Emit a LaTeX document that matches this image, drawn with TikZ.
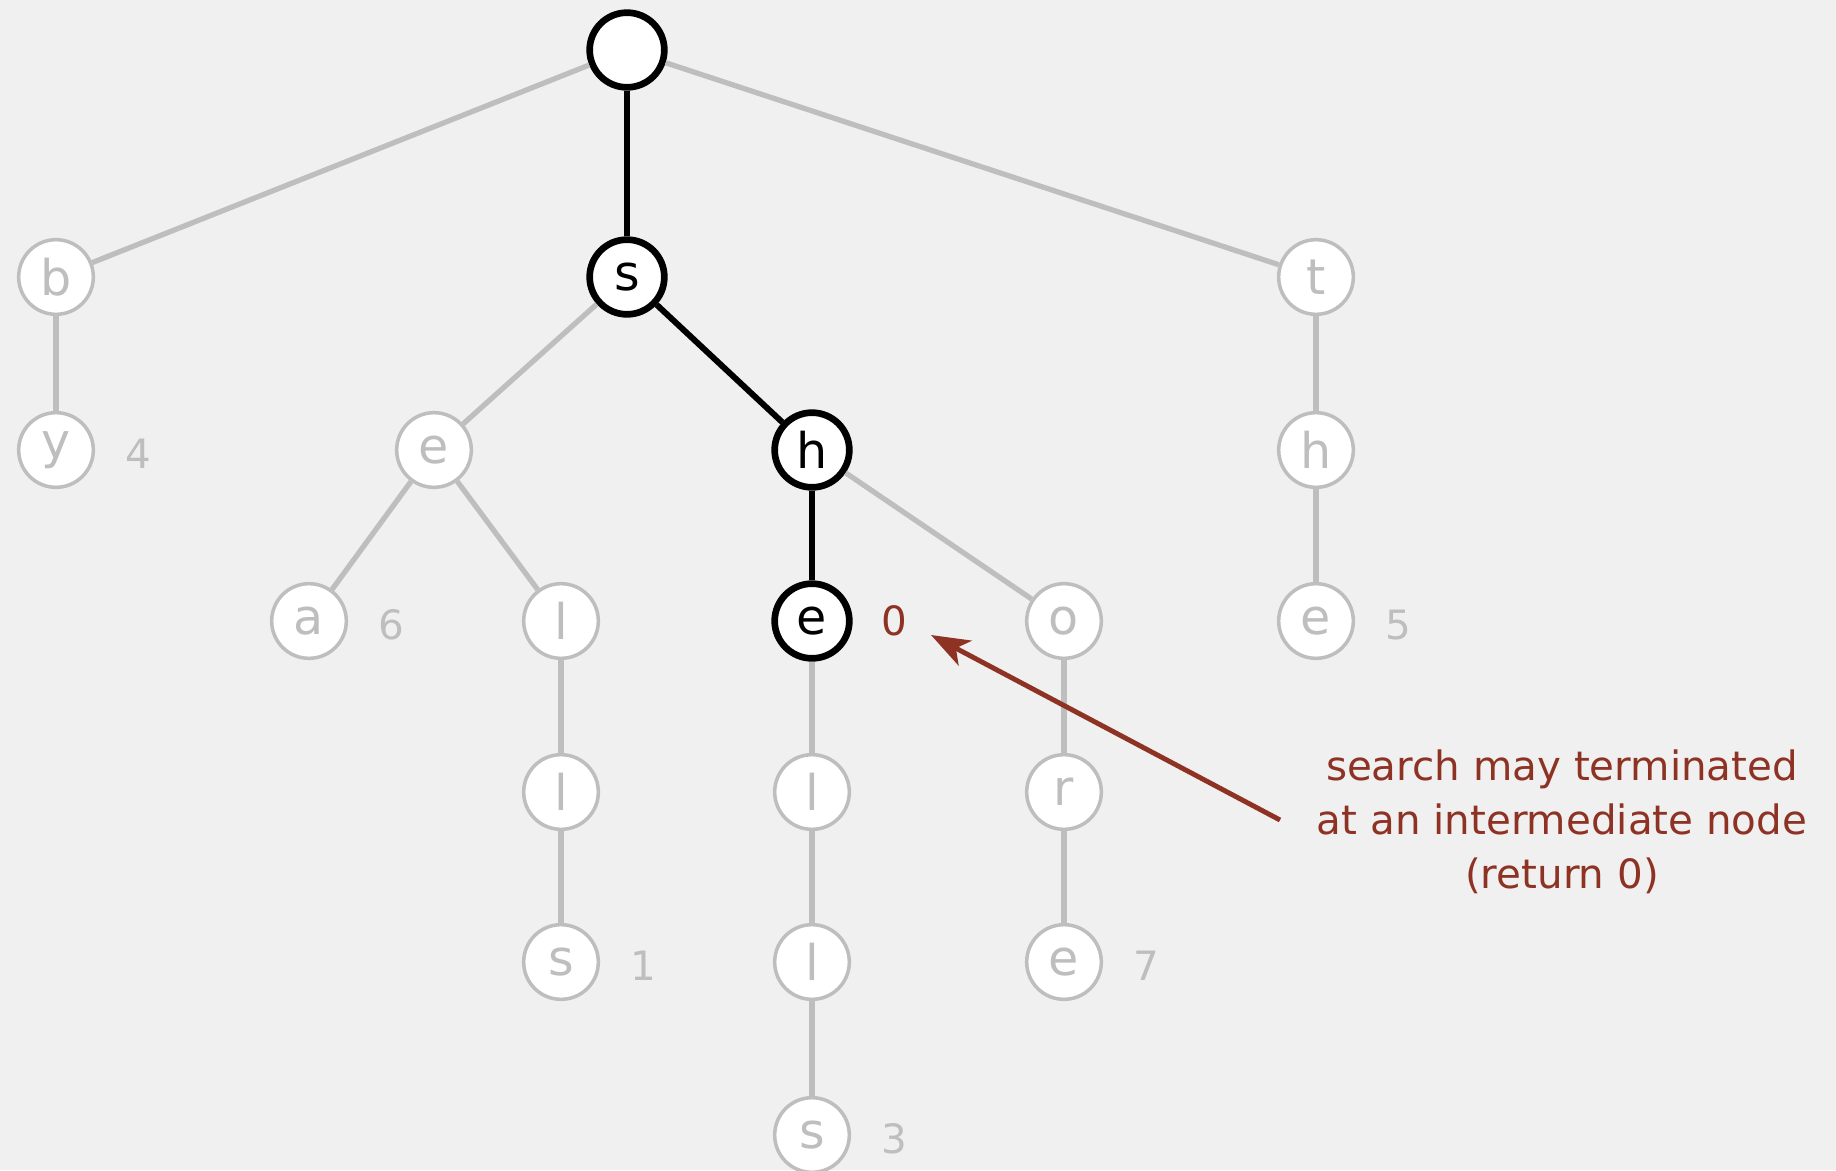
\documentclass[tikz,border=0pt]{standalone}
\usepackage{fontspec}
\setmainfont{DejaVu Sans}
\usepackage{xcolor}
\usepackage{tikz}
\usetikzlibrary{calc, arrows.meta}

\definecolor{bgcol}{HTML}{F0F0F0}
\definecolor{faded}{HTML}{BEBEBE}
\definecolor{remark}{HTML}{8E3224}

\begin{document}
\begin{tikzpicture}[x=0.02cm, y=-0.02cm,
		trienode/.style={circle, draw=faded, line width=2pt, fill=white, minimum size=42.5pt, inner sep=0pt, text=faded, font=\fontsize{28}{28}\selectfont},
		pathnode/.style={trienode, draw=black, line width=3.8pt, text=black},
		value/.style={text=faded, font=\fontsize{23}{23}\selectfont},
		fadededge/.style={faded, line width=3pt},
		pathedge/.style={black, line width=3.4pt}]
		
		%background and size of the picture
		\fill [bgcol] (0,0) rectangle (1836,1170);
		\useasboundingbox (0,0) rectangle (1836,1170);
		
		%definition of the levels
		\def\yA{50};
		\def\yB{277};
		\def\yC{450};
		\def\yD{621};
		\def\yE{792};
		\def\yF{962};
		\def\yG{1135};
		
		%offset of the values
		\def\vx{82};
		\def\vy{4};
		
		%nodes
		\node [pathnode] (root) at (627,\yA) {};
		
		\node [trienode] (b) at (56,\yB) {b};
		\node [pathnode] (s) at (627,\yB) {s};
		\node [trienode] (t) at (1316,\yB) {t};
		
		\node [trienode] (by) at (56,\yC) {y};
		\node [trienode] (se) at (434,\yC) {e};
		\node [pathnode] (sh) at (812,\yC) {h};
		\node [trienode] (th) at (1316,\yC) {h};
		
		\node [trienode] (sea) at (309,\yD) {a};
		\node [trienode] (sel) at (561,\yD) {l};
		\node [pathnode] (she) at (812,\yD) {e};
		\node [trienode] (sho) at (1064,\yD) {o};
		\node [trienode] (the) at (1316,\yD) {e};
		
		\node [trienode] (sell) at (561,\yE) {l};
		\node [trienode] (shel) at (812,\yE) {l};
		\node [trienode] (shor) at (1064,\yE) {r};
		
		\node [trienode] (sells) at (561,\yF) {s};
		\node [trienode] (shell) at (812,\yF) {l};
		\node [trienode] (shore) at (1064,\yF) {e};
		
		\node [trienode] (shells) at (812,\yG) {s};
		
		%links
		\draw [fadededge] (root) -- (b);
		\draw [pathedge] (root) -- (s);
		\draw [fadededge] (root) -- (t);
		\draw [fadededge] (b) -- (by);
		\draw [fadededge] (s) -- (se);
		\draw [pathedge] (s) -- (sh);
		\draw [fadededge] (t) -- (th);
		\draw [fadededge] (se) -- (sea);
		\draw [fadededge] (se) -- (sel);
		\draw [pathedge] (sh) -- (she);
		\draw [fadededge] (sh) -- (sho);
		\draw [fadededge] (th) -- (the);
		\draw [fadededge] (sel) -- (sell);
		\draw [fadededge] (she) -- (shel);
		\draw [fadededge] (sho) -- (shor);
		\draw [fadededge] (sell) -- (sells);
		\draw [fadededge] (shel) -- (shell);
		\draw [fadededge] (shor) -- (shore);
		\draw [fadededge] (shell) -- (shells);
		
		%values
		\node [value] (v4) at ($(by)+(\vx,\vy)$) {4};
		\node [value] (v6) at ($(sea)+(\vx,\vy)$) {6};
		\node [value] (v0) at ($(she)+(\vx,0)$) {\color{remark}0};
		\node [value] (v5) at ($(the)+(\vx,\vy)$) {5};
		\node [value] (v1) at ($(sells)+(\vx,\vy)$) {1};
		\node [value] (v7) at ($(shore)+(\vx,\vy)$) {7};
		\node [value] (v3) at ($(shells)+(\vx,\vy)$) {3};
		
		%remark
		\node [align=center, text=remark, font=\fontsize{23}{30.6}\selectfont] (note) at (1562,822) {search may terminated\\at an intermediate node\\(return 0)};
		\coordinate (tail) at (1280,820);
		\coordinate (tip) at (931,635);
		\draw [remark, line width=2.8pt, -{Stealth[length=22pt, width=16pt, inset=6pt]}] (tail) -- (tip);
	\end{tikzpicture}
\end{document}
